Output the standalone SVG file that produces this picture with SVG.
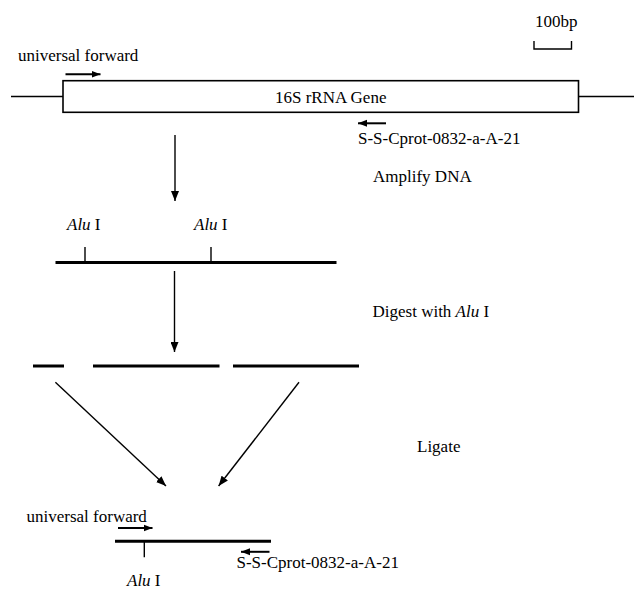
<svg xmlns="http://www.w3.org/2000/svg" width="634" height="590" viewBox="0 0 634 590">
<style>
.t{font-family:"Liberation Serif","Times New Roman",serif;font-size:17px;fill:#000}
.i{font-style:italic}
.thin{stroke:#000;stroke-width:1.4;fill:none}
.thick{stroke:#000;stroke-width:3;fill:none}
.primer{stroke:#000;stroke-width:2;fill:none;marker-end:url(#ph)}
.conn{stroke:#000;stroke-width:1.4;fill:none;marker-end:url(#ah)}
</style>
<defs>
<marker id="ph" markerUnits="userSpaceOnUse" markerWidth="9" markerHeight="8" refX="9" refY="4" orient="auto">
<path d="M0,0.5 L9,4 L0,7.5 z" fill="#000"/>
</marker>
<marker id="ah" markerUnits="userSpaceOnUse" markerWidth="10" markerHeight="8" refX="10" refY="4" orient="auto">
<path d="M0,0 L10,4 L0,8 z" fill="#000"/>
</marker>
</defs>
<rect width="634" height="590" fill="#fff"/>

<g id="scale-bar">
<text class="t" x="535" y="26.5">100bp</text>
<path class="thin" d="M534,41 V49 H571.5 V41" stroke-width="1.6"/>
</g>

<g id="gene">
<line class="thin" x1="11" y1="96.5" x2="63" y2="96.5"/>
<line class="thin" x1="578.5" y1="96.5" x2="634" y2="96.5"/>
<rect x="63" y="80.7" width="515.5" height="31.6" fill="#fff" stroke="#000" stroke-width="1.6"/>
<text class="t" x="275" y="103">16S rRNA Gene</text>
</g>

<g id="primers-top">
<text class="t" x="18" y="61">universal forward</text>
<line class="primer" x1="65.5" y1="74.3" x2="100.5" y2="74.3"/>
<line class="primer" x1="386" y1="123.3" x2="358" y2="123.3"/>
<text class="t" x="358" y="144">S-S-Cprot-0832-a-A-21</text>
</g>

<g id="step-labels">
<text class="t" x="373" y="182">Amplify DNA</text>
<text class="t" x="372.5" y="317">Digest with <tspan class="i">Alu</tspan> I</text>
<text class="t" x="417" y="452">Ligate</text>
</g>

<g id="amplicon">
<text class="t" x="67" y="230"><tspan class="i">Alu</tspan> I</text>
<text class="t" x="194" y="230"><tspan class="i">Alu</tspan> I</text>
<line class="thin" x1="85" y1="247" x2="85" y2="262"/>
<line class="thin" x1="211" y1="247" x2="211" y2="262"/>
<line class="thick" x1="55.5" y1="262.5" x2="336.5" y2="262.5"/>
</g>

<g id="fragments">
<line class="thick" x1="33" y1="366" x2="64" y2="366"/>
<line class="thick" x1="93" y1="366" x2="219.5" y2="366"/>
<line class="thick" x1="233" y1="366" x2="359" y2="366" stroke-width="2.2"/>
</g>

<g id="ligated-product">
<text class="t" x="26.5" y="522">universal forward</text>
<line class="primer" x1="118" y1="528" x2="152.5" y2="528"/>
<line class="thick" x1="115" y1="541.3" x2="271" y2="541.3"/>
<line class="thin" x1="144.3" y1="541" x2="144.3" y2="557.3" stroke-width="1.6"/>
<line class="primer" x1="269.5" y1="551.8" x2="241" y2="551.8"/>
<text class="t" x="236.5" y="568">S-S-Cprot-0832-a-A-21</text>
<text class="t" x="127" y="586"><tspan class="i">Alu</tspan> I</text>
</g>

<g id="connectors">
<line class="conn" x1="175" y1="135" x2="175" y2="201"/>
<line class="conn" x1="174.5" y1="271" x2="174.5" y2="352"/>
<line class="conn" x1="55.4" y1="382.3" x2="166" y2="486"/>
<line class="conn" x1="299" y1="382.3" x2="218.6" y2="486"/>
</g>
</svg>
